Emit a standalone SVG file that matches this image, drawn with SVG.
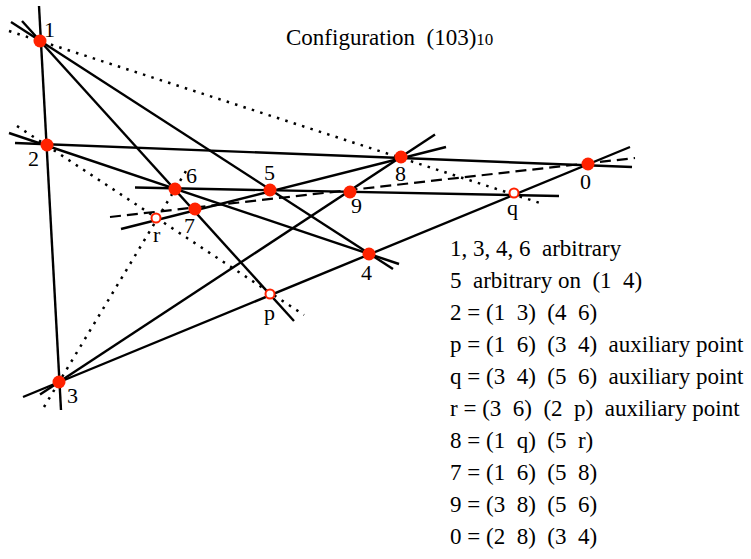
<svg xmlns="http://www.w3.org/2000/svg" width="751" height="559" viewBox="0 0 751 559">
<style>
.bg{fill:#ffffff}
.solid{stroke:#000;stroke-width:2.4;fill:none;stroke-linecap:butt}
.dotted{stroke:#000;stroke-width:2.5;fill:none;stroke-dasharray:2.5 6.3}
.dashed{stroke:#000;stroke-width:2.2;fill:none;stroke-dasharray:11 6}
.pt{fill:#ff2200}
.aux{fill:#ffffff;stroke:#ff2200;stroke-width:2}
.lbl{font-family:"Liberation Serif","Times New Roman",serif;font-size:22px;fill:#000}
.txt{font-family:"Liberation Serif","Times New Roman",serif;font-size:23px;fill:#000;white-space:pre}
.small{font-size:17px}
</style>
<rect class="bg" x="0" y="0" width="751" height="559"/>
<g id="connectors">
  <line class="solid" x1="39" y1="6" x2="61" y2="410"/>
  <line class="solid" x1="22" y1="21" x2="294" y2="321"/>
  <line class="solid" x1="11" y1="22" x2="393" y2="269"/>
  <line class="dotted" x1="9" y1="31" x2="543" y2="204"/>
  <line class="solid" x1="15" y1="143" x2="632" y2="167"/>
  <line class="solid" x1="9" y1="133" x2="399" y2="264"/>
  <line class="dotted" x1="17" y1="126" x2="304" y2="315"/>
  <line class="solid" x1="23" y1="397" x2="630" y2="147"/>
  <line class="solid" x1="40" y1="394.5" x2="435" y2="134.6"/>
  <line class="dotted" x1="44" y1="407" x2="189" y2="166"/>
  <line class="solid" x1="135" y1="187.5" x2="559" y2="196"/>
  <line class="solid" x1="121" y1="229" x2="446" y2="147"/>
  <line class="dashed" x1="110" y1="217" x2="635" y2="158"/>
</g>
<g id="node-1"><circle class="pt" cx="40" cy="41" r="6.5"/><text class="lbl" x="44" y="37">1</text></g>
<g id="node-2"><circle class="pt" cx="47" cy="145" r="6.5"/><text class="lbl" x="28" y="166">2</text></g>
<g id="node-3"><circle class="pt" cx="59" cy="382" r="6.5"/><text class="lbl" x="67" y="403">3</text></g>
<g id="node-4"><circle class="pt" cx="369" cy="254" r="6.5"/><text class="lbl" x="361" y="280">4</text></g>
<g id="node-5"><circle class="pt" cx="270" cy="190" r="6.5"/><text class="lbl" x="264" y="180">5</text></g>
<g id="node-6"><circle class="pt" cx="175" cy="189" r="6.5"/><text class="lbl" x="186" y="183">6</text></g>
<g id="node-7"><circle class="pt" cx="195" cy="209" r="6.5"/><text class="lbl" x="184" y="233">7</text></g>
<g id="node-8"><circle class="pt" cx="401" cy="157" r="6.5"/><text class="lbl" x="395" y="181">8</text></g>
<g id="node-9"><circle class="pt" cx="350" cy="192" r="6.5"/><text class="lbl" x="351" y="213">9</text></g>
<g id="node-0"><circle class="pt" cx="588" cy="164" r="6.5"/><text class="lbl" x="580" y="189">0</text></g>
<g id="node-p"><circle class="aux" cx="270" cy="294" r="4.5"/><text class="lbl" x="264" y="320">p</text></g>
<g id="node-q"><circle class="aux" cx="514" cy="193" r="4.5"/><text class="lbl" x="507" y="215">q</text></g>
<g id="node-r"><circle class="aux" cx="156" cy="218" r="4.5"/><text class="lbl" x="153" y="242">r</text></g>
<text class="txt" x="286" y="45" xml:space="preserve">Configuration  (103)<tspan class="small">10</tspan></text>
<g id="legend">
  <text class="txt" x="450" y="256" xml:space="preserve">1, 3, 4, 6  arbitrary</text>
  <text class="txt" x="450" y="288" xml:space="preserve">5  arbitrary on  (1  4)</text>
  <text class="txt" x="450" y="320" xml:space="preserve">2 = (1  3)  (4  6)</text>
  <text class="txt" x="450" y="352" xml:space="preserve">p = (1  6)  (3  4)  auxiliary point</text>
  <text class="txt" x="450" y="384" xml:space="preserve">q = (3  4)  (5  6)  auxiliary point</text>
  <text class="txt" x="450" y="416" xml:space="preserve">r = (3  6)  (2  p)  auxiliary point</text>
  <text class="txt" x="450" y="448" xml:space="preserve">8 = (1  q)  (5  r)</text>
  <text class="txt" x="450" y="480" xml:space="preserve">7 = (1  6)  (5  8)</text>
  <text class="txt" x="450" y="512" xml:space="preserve">9 = (3  8)  (5  6)</text>
  <text class="txt" x="450" y="544" xml:space="preserve">0 = (2  8)  (3  4)</text>
</g>
</svg>
